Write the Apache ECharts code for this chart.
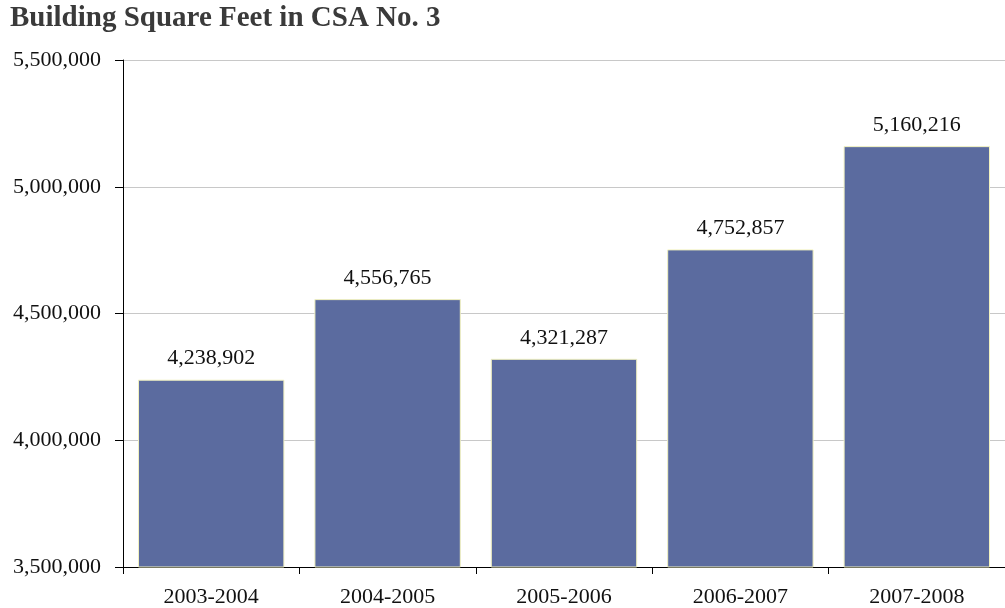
<!DOCTYPE html>
<html><head><meta charset="utf-8">
<script src="https://cdn.jsdelivr.net/npm/echarts@6/dist/echarts.min.js"></script>
<style>html,body{margin:0;padding:0;background:#fff}#c{width:1005px;height:608px}</style>
</head><body><div id="c"></div>
<script>
const categories = ['2003-2004','2004-2005','2005-2006','2006-2007','2007-2008'];
const values = [4238902, 4556765, 4321287, 4752857, 5160216];
const yMin = 3500000, yMax = 5500000, yStep = 500000;
const fmt = v => v.toLocaleString('en-US');
const font = '"Liberation Serif", "DejaVu Serif", serif';
const chart = echarts.init(document.getElementById('c'), null, {renderer:'canvas'});
chart.setOption({
  animation:false,
  title:{text:'Building Square Feet in CSA No. 3', left:5, top:-1,
    textStyle:{fontFamily:font, fontWeight:'bold', fontSize:29, color:'#3a3a3a'}},
  grid:{left:123, right:-10, top:60, bottom:41, containLabel:false},
  xAxis:{type:'category', data:categories,
    axisLine:{lineStyle:{color:'#000', width:1}},
    axisTick:{show:true, length:7, lineStyle:{color:'#000'}},
    axisLabel:{fontFamily:font, fontSize:22, color:'#111', margin:19}},
  yAxis:{type:'value', min:yMin, max:yMax, interval:yStep,
    axisLine:{show:true, lineStyle:{color:'#000'}},
    axisTick:{show:true, length:8, lineStyle:{color:'#000'}},
    axisLabel:{fontFamily:font, fontSize:22, color:'#111', margin:22, formatter:fmt},
    splitLine:{show:true, lineStyle:{color:'#c8c8c8', width:1}}},
  series:[{type:'bar', data:values, barCategoryGap:'17%',
    itemStyle:{color:'#5B6B9F', borderColor:'#F2F2C0', borderWidth:1},
    label:{show:true, position:'top', distance:10, fontFamily:font, fontSize:22, color:'#111', formatter:p=>fmt(p.value)}}]
});
</script></body></html>
